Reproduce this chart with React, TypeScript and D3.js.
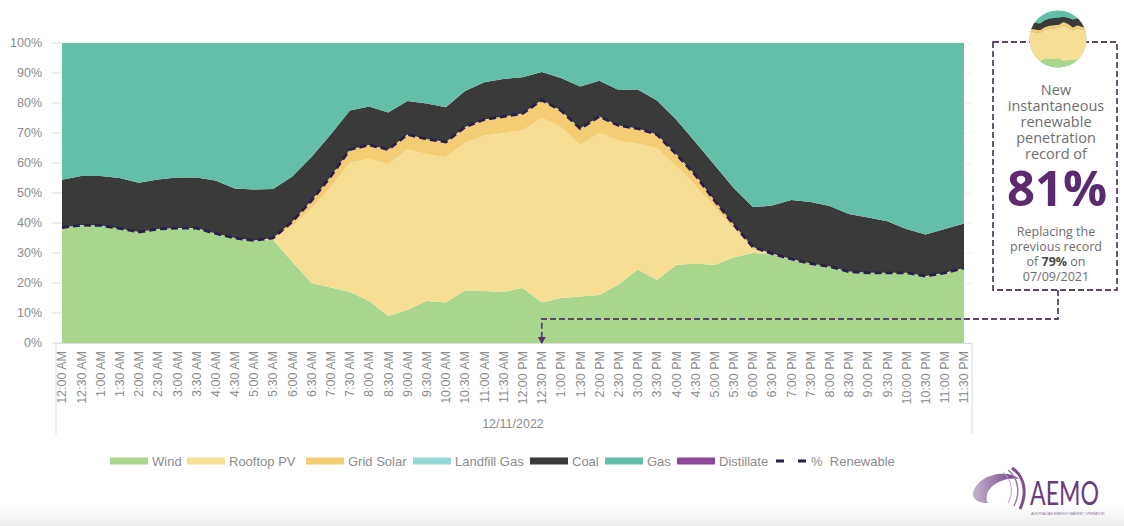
import React from "react";
import * as d3 from "d3";

// Half-hourly generation mix, 12/11/2022 (% of total)
const times = [
  "12:00 AM", "12:30 AM", "1:00 AM", "1:30 AM", "2:00 AM", "2:30 AM", "3:00 AM", "3:30 AM",
  "4:00 AM", "4:30 AM", "5:00 AM", "5:30 AM", "6:00 AM", "6:30 AM", "7:00 AM", "7:30 AM",
  "8:00 AM", "8:30 AM", "9:00 AM", "9:30 AM", "10:00 AM", "10:30 AM", "11:00 AM", "11:30 AM",
  "12:00 PM", "12:30 PM", "1:00 PM", "1:30 PM", "2:00 PM", "2:30 PM", "3:00 PM", "3:30 PM",
  "4:00 PM", "4:30 PM", "5:00 PM", "5:30 PM", "6:00 PM", "6:30 PM", "7:00 PM", "7:30 PM",
  "8:00 PM", "8:30 PM", "9:00 PM", "9:30 PM", "10:00 PM", "10:30 PM", "11:00 PM", "11:30 PM",
];

const wind = [
  38.4, 39.2, 39.1, 38.1, 36.9, 37.9, 38.2, 38.2, 36.4, 34.9, 34.1, 34.4,
  27, 20, 18.5, 17, 14, 9, 11, 14, 13.5, 17.5, 17.3, 17,
  18.3, 13.5, 15, 15.5, 16, 19.5, 24.5, 21, 26, 26.5, 26, 28.5,
  30, 29.5, 27.9, 26.4, 25.4, 23.7, 23.3, 23.3, 23.3, 22.2, 23.3, 24.9,
];

const rooftopPV = [
  0, 0, 0, 0, 0, 0, 0, 0, 0, 0, 0, 0.3,
  11.9, 24.9, 33.4, 43.1, 47.4, 50.6, 53.6, 48.9, 48.4, 49.2, 51.9, 52.9,
  52.6, 61.6, 56.9, 50.6, 54.1, 47.9, 41.9, 43.9, 32.9, 26.2, 19.2, 9.6,
  1.3, 0.1, 0, 0, 0, 0, 0, 0, 0, 0, 0, 0,
];

const gridSolar = [
  0, 0, 0, 0, 0, 0, 0, 0, 0, 0, 0, 0.2,
  1.5, 2.5, 3.5, 4.3, 4.5, 4.8, 4.8, 5, 5, 5.2, 5.2, 5.5,
  5.5, 5.8, 5.5, 5.3, 5.3, 5, 5, 4.5, 4, 3.2, 2.2, 1.3,
  0.6, 0.1, 0, 0, 0, 0, 0, 0, 0, 0, 0, 0,
];

const landfillGas = [
  0.1, 0.1, 0.1, 0.1, 0.1, 0.1, 0.1, 0.1, 0.1, 0.1, 0.1, 0.1,
  0.1, 0.1, 0.1, 0.1, 0.1, 0.1, 0.1, 0.1, 0.1, 0.1, 0.1, 0.1,
  0.1, 0.1, 0.1, 0.1, 0.1, 0.1, 0.1, 0.1, 0.1, 0.1, 0.1, 0.1,
  0.1, 0.1, 0.1, 0.1, 0.1, 0.1, 0.1, 0.1, 0.1, 0.1, 0.1, 0.1,
];

const coal = [
  15.9, 16.4, 16.5, 16.8, 16.4, 16.5, 16.9, 16.9, 17.7, 16.5, 17.0, 16.3,
  15.0, 14.5, 14.0, 13.0, 12.8, 12.3, 11.2, 11.8, 11.6, 12.0, 12.4, 12.5,
  12.1, 9.3, 10.8, 14.0, 11.9, 11.8, 13.0, 11.3, 11.5, 11.0, 11.8, 12.2,
  13.3, 16.0, 19.7, 20.5, 20.2, 19.2, 18.4, 17.2, 14.6, 13.9, 14.6, 14.8,
];

const gas = [
  45.6, 44.3, 44.3, 45.0, 46.6, 45.5, 44.8, 44.8, 45.8, 48.5, 48.8, 48.7,
  44.5, 38.0, 30.5, 22.5, 21.2, 23.2, 19.3, 20.2, 21.4, 16.0, 13.1, 12.0,
  11.4, 9.7, 11.7, 14.5, 12.6, 15.7, 15.5, 19.2, 25.5, 33.0, 40.7, 48.3,
  54.7, 54.2, 52.3, 53.0, 54.3, 57.0, 58.2, 59.4, 62.0, 63.8, 62.0, 60.2,
];

const distillate = [
  0, 0, 0, 0, 0, 0, 0, 0, 0, 0, 0, 0,
  0, 0, 0, 0, 0, 0, 0, 0, 0, 0, 0, 0,
  0, 0, 0, 0, 0, 0, 0, 0, 0, 0, 0, 0,
  0, 0, 0, 0, 0, 0, 0, 0, 0, 0, 0, 0,
];

const yTicks = [0, 10, 20, 30, 40, 50, 60, 70, 80, 90, 100];
const dateLabel = "12/11/2022";

const seriesKeys = ["Wind", "Rooftop PV", "Grid Solar", "Landfill Gas", "Coal", "Gas", "Distillate"];
const seriesValues = [wind, rooftopPV, gridSolar, landfillGas, coal, gas, distillate];
const seriesColors = ["#a7d68c", "#f7de95", "#f4cc73", "#93d9d7", "#3a3a3a", "#64bfa9", "#8d4598"];
const renewableKeys = ["Wind", "Rooftop PV", "Grid Solar", "Landfill Gas"];

const rows = times.map((t, i) => {
  const r: Record<string, number | string> = { time: t };
  seriesKeys.forEach((k, j) => (r[k] = seriesValues[j][i]));
  return r;
});
const renewableShare = rows.map((r) => renewableKeys.reduce((s, k) => s + (r[k] as number), 0));

const stacked = d3.stack<any>().keys(seriesKeys)(rows);

const AXIS_GREY = "#8c8c8c";
const LINE_GREY = "#dcdcdc";
const CALLOUT = "#5a4866";
const PURPLE = "#5c2a6e";

function StackLayers({ x, y }: { x: d3.ScalePoint<string>; y: d3.ScaleLinear<number, number> }) {
  const area = d3
    .area<any>()
    .x((_, i) => x(times[i]) as number)
    .y0((d) => y(d[0]))
    .y1((d) => y(d[1]));
  return (
    <g>
      {stacked.map((s, j) => (
        <path key={seriesKeys[j]} d={area(s) || ""} fill={seriesColors[j]} />
      ))}
    </g>
  );
}

export default function App() {
  const x = d3.scalePoint<string>().domain(times).range([62, 964]);
  const y = d3.scaleLinear().domain([0, 100]).range([343, 43]);

  const renewableLine = d3
    .line<number>()
    .x((_, i) => x(times[i]) as number)
    .y((d) => y(d));

  // Thumbnail inside the callout: same stack, zoomed around midday
  const xs = d3.scalePoint<string>().domain(times).range([946, 946 + 47 * 4.7]);
  const ys = d3.scaleLinear().domain([0, 100]).range([69, 11]);

  const recordIdx = renewableShare.indexOf(d3.max(renewableShare) as number);
  const recordX = x(times[recordIdx]) as number;

  const legendItems = [
    { label: "Wind", color: seriesColors[0], x: 110 },
    { label: "Rooftop PV", color: seriesColors[1], x: 187 },
    { label: "Grid Solar", color: seriesColors[2], x: 306 },
    { label: "Landfill Gas", color: seriesColors[3], x: 413 },
    { label: "Coal", color: seriesColors[4], x: 530 },
    { label: "Gas", color: seriesColors[5], x: 605 },
    { label: "Distillate", color: seriesColors[6], x: 677 },
  ];

  const font = "'Liberation Sans', Arial, sans-serif";
  const calloutFont = "'Open Sans', 'Noto Sans', sans-serif";
  const cx = 1056;

  return (
    <svg
      width={1124}
      height={526}
      style={{ position: "absolute", left: 0, top: 0, background: "#fff" }}
      fontFamily={font}
    >
      <defs>
        <clipPath id="thumb">
          <circle cx={1058} cy={39} r={28.5} />
        </clipPath>
        <linearGradient id="footer" x1="0" y1="0" x2="0" y2="1">
          <stop offset="0" stopColor="#ffffff" />
          <stop offset="1" stopColor="#ececec" />
        </linearGradient>
        <linearGradient id="swoosh" x1="0" y1="0" x2="1" y2="0">
          <stop offset="0" stopColor="#c4b2cf" />
          <stop offset="1" stopColor="#6b3f82" />
        </linearGradient>
      </defs>

      <rect x={0} y={505} width={1124} height={21} fill="url(#footer)" />

      {/* y axis */}
      {yTicks.map((t) => (
        <g key={t}>
          <line x1={52} x2={62} y1={y(t)} y2={y(t)} stroke={LINE_GREY} strokeWidth={1} />
          <line x1={965} x2={973} y1={y(t)} y2={y(t)} stroke="#eeeeee" strokeWidth={1} />
          <text x={42} y={y(t)} dy="0.35em" textAnchor="end" fontSize={12.5} fill={AXIS_GREY}>
            {t}%
          </text>
        </g>
      ))}

      <StackLayers x={x} y={y} />

      <path
        d={renewableLine(renewableShare) || ""}
        fill="none"
        stroke="#2b1d4d"
        strokeWidth={2.8}
        strokeDasharray="7,4"
      />

      {/* category axis */}
      <line x1={56} x2={972} y1={343.5} y2={343.5} stroke={LINE_GREY} />
      <line x1={56} x2={56} y1={343} y2={434} stroke={LINE_GREY} />
      <line x1={972} x2={972} y1={343} y2={434} stroke={LINE_GREY} />
      {times.map((t) => (
        <text
          key={t}
          transform={`translate(${x(t)},351) rotate(-90)`}
          dy="0.35em"
          textAnchor="end"
          fontSize={12.5}
          fill={AXIS_GREY}
        >
          {t}
        </text>
      ))}
      <text x={(62 + 964) / 2} y={428} textAnchor="middle" fontSize={12.5} fill={AXIS_GREY}>
        {dateLabel}
      </text>

      {/* legend */}
      {legendItems.map((it) => (
        <g key={it.label}>
          <rect x={it.x} y={457.5} width={38} height={7} fill={it.color} />
          <text x={it.x + 42} y={461} dy="0.35em" fontSize={13} fill={AXIS_GREY}>
            {it.label}
          </text>
        </g>
      ))}
      <line x1={776} x2={806} y1={461} y2={461} stroke="#2b1d4d" strokeWidth={3} strokeDasharray="8,14" />
      <text x={811} y={461} dy="0.35em" fontSize={13} fill={AXIS_GREY} xmlSpace="preserve">
        %  Renewable
      </text>

      {/* record callout */}
      <rect
        x={993}
        y={42}
        width={124}
        height={248}
        fill="none"
        stroke={CALLOUT}
        strokeWidth={1.8}
        strokeDasharray="6,3"
      />
      <path
        d={`M1058,290 V319 H${recordX} V338`}
        fill="none"
        stroke={CALLOUT}
        strokeWidth={1.8}
        strokeDasharray="6,3"
      />
      <path d={`M${recordX - 4},337 L${recordX + 4},337 L${recordX},344 Z`} fill={PURPLE} />

      <circle cx={1058} cy={39} r={28.5} fill="#fff" />
      <g clipPath="url(#thumb)">
        <rect x={1028} y={9} width={62} height={62} fill={seriesColors[5]} />
        <StackLayers x={xs} y={ys} />
      </g>

      <text textAnchor="middle" fontFamily={calloutFont} fill="#6e6e6e" fontSize={14.5}>
        <tspan x={cx} y={95}>New</tspan>
        <tspan x={cx} y={111}>instantaneous</tspan>
        <tspan x={cx} y={127}>renewable</tspan>
        <tspan x={cx} y={143}>penetration</tspan>
        <tspan x={cx} y={158.5}>record of</tspan>
        <tspan x={cx + 1} y={206} fontSize={49} fontWeight={700} fill={PURPLE}>
          {Math.round(renewableShare[recordIdx])}%
        </tspan>
        <tspan x={cx} y={236} fontSize={12.5}>Replacing the</tspan>
        <tspan x={cx} y={251} fontSize={12.5}>previous record</tspan>
        <tspan x={cx} y={266} fontSize={12.5}>
          of <tspan fontWeight={700} fill="#4a4a4a">79%</tspan> on
        </tspan>
        <tspan x={cx} y={281} fontSize={12.5}>07/09/2021</tspan>
      </text>

      {/* AEMO mark */}
      <g>
        <path
          d="M973,493 C976,480 992,472 1008,474 C1013,475 1017,477 1019,479 C1008,477 996,481 989,490 C986,495 986,500 988,503 C980,503 972,500 973,493 Z"
          fill="url(#swoosh)"
        />
        <path d="M1012,468 C1024,476 1028,492 1020,509" fill="none" stroke="#7b4f90" strokeWidth={3} />
        <path d="M1008,470 C1018,478 1021,492 1014,506" fill="none" stroke="#9a78ad" strokeWidth={1.5} />
        <path d="M1003,472 C1012,480 1014,493 1008,503" fill="none" stroke="#b9a2c6" strokeWidth={1} />
        <text
          transform="translate(1030,505) scale(0.7,1)"
          fontFamily="'Lato', 'Liberation Sans', sans-serif"
          fontSize={33}
          fill="#6a3b80"
        >
          AEMO
        </text>
        <text x={1031} y={515} fontSize={3.5} fill="#8a7396">
          AUSTRALIAN ENERGY MARKET OPERATOR
        </text>
      </g>
    </svg>
  );
}
